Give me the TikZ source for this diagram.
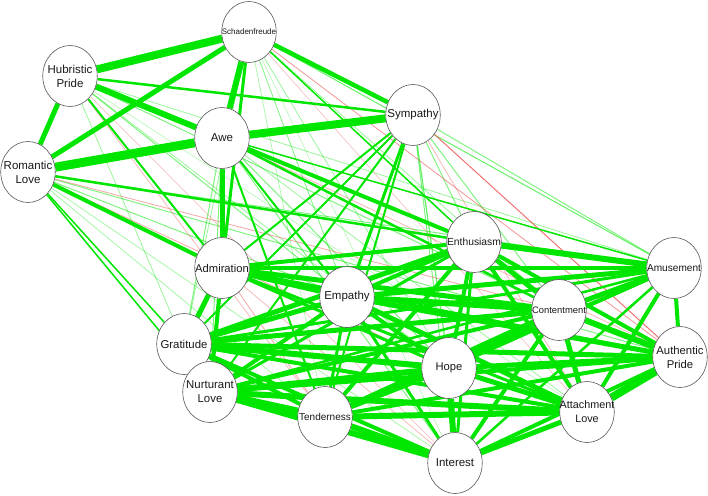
\documentclass[tikz,border=0pt]{standalone}
\usepackage{fontspec}
\setmainfont{Liberation Sans}
\usetikzlibrary{shapes.geometric}
\pgfdeclarelayer{edges}
\pgfsetlayers{edges,main}
\definecolor{eg}{RGB}{0,230,0}
\definecolor{er}{RGB}{235,80,80}
\definecolor{nodeline}{RGB}{85,85,85}
\newcommand\fsz[1]{\fontsize{#1}{14}\selectfont}
\tikzset{
  emo/.style 2 args={ellipse, draw=nodeline, line width=0.6pt, fill=white,
    minimum width=54.5pt, minimum height=61pt, inner sep=0pt,
    label={[align=center, text=black!90, font=\fsz{#1}, inner sep=0pt]center:#2}},
  gedge/.style={draw=eg, line cap=butt},
  redge/.style={draw=er, line cap=butt}
}
\begin{document}
\begin{tikzpicture}[x=1pt,y=-1pt]
\useasboundingbox (0,0) rectangle (708,495);
% nodes
\node[emo={8}{Schadenfreude}]         (S)  at (249,32)  {};
\node[emo={11.5}{Hubristic\\Pride}]   (HP) at (70,76)   {};
\node[emo={11.5}{Sympathy}]           (Sy) at (413,115) {};
\node[emo={11.5}{Awe}]                (Aw) at (222,138) {};
\node[emo={11.5}{Romantic\\Love}]     (RL) at (28,172)  {};
\node[emo={10.3}{Enthusiasm}]         (En) at (474,242) {};
\node[emo={10.1}{Amusement}]          (Am) at (674,268) {};
\node[emo={11.2}{Admiration}]         (Ad) at (222,268) {};
\node[emo={11.5}{Empathy}]            (Em) at (347,297) {};
\node[emo={9.4}{Contentment}]         (Co) at (559,310) {};
\node[emo={11.4}{Gratitude}]          (Gr) at (184,344) {};
\node[emo={11.3}{Authentic\\Pride}]   (AP) at (680,357) {};
\node[emo={11.2}{Hope}]               (Ho) at (449,368) {};
\node[emo={11.4}{Nurturant\\Love}]    (NL) at (210,392) {};
\node[emo={10}{Tenderness}]           (Te) at (325,417) {};
\node[emo={10.8}{Attachment\\Love}]   (AL) at (587,412) {};
\node[emo={11.5}{Interest}]           (In) at (455,463) {};
\begin{pgfonlayer}{edges}
% faint green edges
\foreach \a/\b/\w/\o in {
  S/Em/0.8/0.5, S/Co/0.8/0.4, S/Am/1/0.6, S/Ho/0.8/0.4, S/Gr/0.8/0.4,
  S/Te/0.7/0.35, S/In/0.6/0.3,
  HP/Em/1/0.5, HP/En/1/0.6, HP/Co/1/0.5, HP/Ho/0.8/0.4, HP/AL/0.6/0.3,
  HP/Am/0.8/0.4, HP/Gr/0.8/0.4,
  RL/Em/1/0.5, RL/AP/1/0.5, RL/Am/1/0.5, RL/In/0.8/0.35, RL/Te/0.8/0.35,
  Aw/Gr/1/0.5, Aw/Ho/1/0.5, Aw/In/1/0.5, Aw/NL/1/0.5, Aw/AL/0.8/0.4,
  Sy/En/1/0.5, Sy/Ho/1.2/0.6, Sy/Am/1/0.5, Sy/Co/1/0.5, Sy/In/1/0.5}
  \draw[gedge, line width=\w pt, draw opacity=\o] (\a) -- (\b);
% faint red edges
\foreach \a/\b/\w/\o in {
  S/AP/0.8/0.6, S/AL/0.6/0.4, HP/Te/0.8/0.4, HP/In/0.7/0.35,
  RL/Ho/0.8/0.5, RL/Co/0.8/0.5, Aw/AP/0.8/0.4, Sy/AP/1/0.8, Sy/AL/0.8/0.4,
  Em/AL/0.8/0.4, Ad/In/0.8/0.4, Ad/Te/0.8/0.5}
  \draw[redge, line width=\w pt, draw opacity=\o] (\a) -- (\b);
% cross edges top-bottom
\foreach \a/\b/\w in {
  S/Ad/3, S/En/1.5, HP/Ad/2, RL/Ad/4, RL/En/2.5, RL/Gr/1.5, RL/NL/1.5,
  Aw/Ad/5, Aw/En/4, Aw/Em/2, Aw/Co/2.5, Aw/Am/1.5, Aw/Te/2,
  Sy/Ad/2, Sy/Gr/2, Sy/NL/2, Sy/Em/3, Sy/Te/2}
  \draw[gedge, line width=\w pt] (\a) -- (\b);
% top cluster
\foreach \a/\b/\w in {
  S/HP/8, S/RL/5, S/Aw/6, S/Sy/4.5, HP/Aw/6, HP/Sy/2.5, HP/RL/5,
  RL/Aw/9, Aw/Sy/8}
  \draw[gedge, line width=\w pt] (\a) -- (\b);
% bottom cluster
\foreach \a/\b/\w in {
  Ad/Gr/5, Ad/NL/4, Ad/Em/6, Ad/En/4, Ad/Co/5, Ad/Am/4, Ad/AP/3,
  Ad/Ho/3, Ad/AL/3,
  Gr/NL/2, Gr/Te/4, Gr/Em/5, Gr/En/5, Gr/Co/5, Gr/Am/3, Gr/AP/5,
  Gr/Ho/6, Gr/AL/4, Gr/In/4,
  NL/Te/7, NL/Em/4, NL/En/3, NL/Co/4, NL/Am/2.5, NL/AP/4, NL/Ho/6,
  NL/AL/6, NL/In/6,
  Te/Em/3, Te/En/4, Te/Co/5, Te/Am/3, Te/AP/4, Te/Ho/5, Te/AL/6, Te/In/6,
  Em/En/4, Em/Co/6, Em/Am/5, Em/AP/5, Em/Ho/4, Em/AL/5, Em/In/3,
  En/Co/5, En/Am/6, En/AP/4, En/Ho/4, En/AL/4, En/In/3,
  Co/Am/5, Co/AP/6, Co/Ho/5, Co/AL/5, Co/In/4,
  Am/AP/4, Am/Ho/3, Am/AL/4, Am/In/2.5,
  AP/Ho/5, AP/AL/8, AP/In/4,
  Ho/AL/5, Ho/In/6, AL/In/5}
  \draw[gedge, line width=\w pt] (\a) -- (\b);
\end{pgfonlayer}
\end{tikzpicture}
\end{document}
